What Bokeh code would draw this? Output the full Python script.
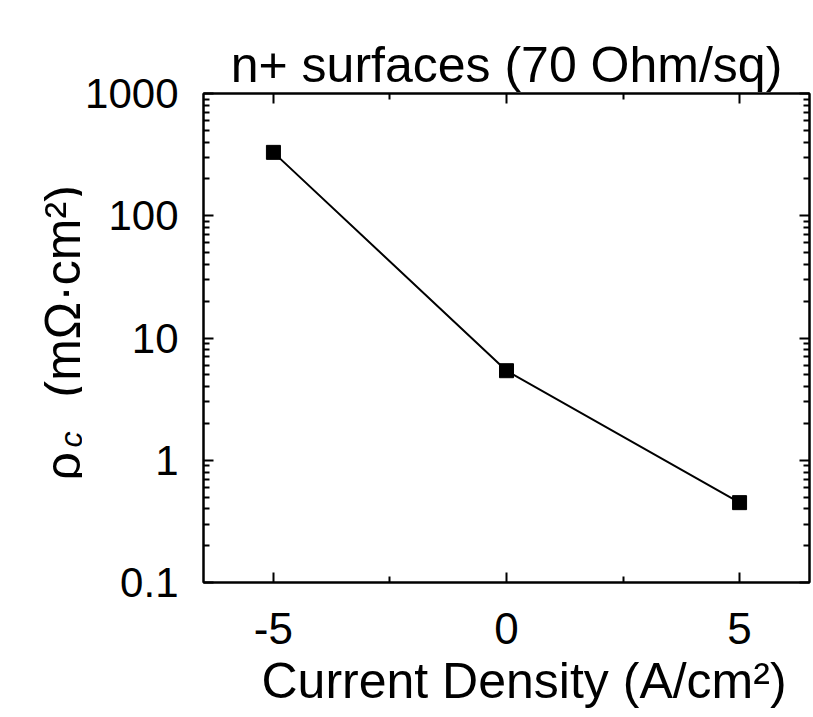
import math
from bokeh.plotting import figure
from bokeh.layouts import row
from bokeh.models import FixedTicker, LinearAxis, LogAxis, Range1d, Title
from bokeh.core.properties import value
from bokeh.embed import file_html
from bokeh.resources import INLINE

# ---- data ----
current_density = [-5, 0, 5]
rho_c = [330, 5.4, 0.45]
x_ticks = [-5, 0, 5]
x_minor_ticks = [-2.5, 2.5]
x_tick_labels = ["-5", "0", "5"]
y_ticks = [0.1, 1, 10, 100, 1000]
y_tick_labels = ["0.1", "1", "10", "100", "1000"]
title_text = "n+ surfaces (70 Ohm/sq)"
x_label = "Current Density (A/cm²)"
y_label_main = "ρ"
y_label_sub = "c"
y_label_unit = "(mΩ·cm²)"

FONT = "Liberation Sans"
W, H = 813, 717
TOP, BOTTOM, LEFT, RIGHT = 93, 135, 203, 4   # frame borders in px
LW = 82  # width of the strip that carries the rotated y-axis label
Y0, Y1 = 0.1, 1000
y_minor = [m * 10.0 ** e for e in range(-1, 3) for m in range(2, 10)]

# ---------- strip with the y-axis label (its frame lines up with the plot's) ----------
lab = figure(width=LW, height=H, x_range=Range1d(0, LW), y_range=Range1d(Y0, Y1),
             y_axis_type="log", output_backend="svg", toolbar_location=None,
             min_border_left=0, min_border_right=0,
             min_border_top=TOP, min_border_bottom=BOTTOM,
             x_axis_location=None, y_axis_location=None)
lab.outline_line_color = None
lab.grid.visible = False
lab.background_fill_color = "white"
lab.border_fill_color = "white"

px_per_decade = (H - TOP - BOTTOM) / (math.log10(Y1) - math.log10(Y0))


def y_at(screen_y):
    """value on the log axis that sits at a given pixel row of the page"""
    return 10 ** (math.log10(Y1) - (screen_y - TOP) / px_per_decade)


rot = math.pi / 2
txt = dict(angle=rot, text_align="left", text_baseline="alphabetic",
           text_font=value(FONT), text_color="black")
lab.text(x=[62], y=[y_at(480)], text=[y_label_main],
         text_font_size=value("50px"), **txt)
lab.text(x=[70], y=[y_at(447)], text=[y_label_sub],
         text_font_size=value("32px"), text_font_style="italic", **txt)
lab.text(x=[62], y=[y_at(397)], text=[y_label_unit],
         text_font_size=value("50px"), **txt)

# ---------- main plot ----------
p = figure(width=W - LW, height=H,
           x_range=Range1d(-6.5, 6.5), y_range=Range1d(Y0, Y1),
           y_axis_type="log", output_backend="svg", toolbar_location=None,
           min_border_left=LEFT - LW, min_border_right=RIGHT,
           min_border_top=TOP, min_border_bottom=BOTTOM)
p.background_fill_color = "white"
p.border_fill_color = "white"
p.outline_line_color = "black"
p.outline_line_width = 2
p.grid.visible = False


def style_axis(ax, ticks, minor, labels, show_labels=True, size="44px"):
    ax.ticker = FixedTicker(ticks=ticks, minor_ticks=minor)
    ax.axis_line_color = "black"
    ax.axis_line_width = 2
    ax.major_tick_in = 10
    ax.major_tick_out = 0
    ax.minor_tick_in = 6
    ax.minor_tick_out = 0
    ax.major_tick_line_width = 2
    ax.minor_tick_line_width = 2
    ax.major_tick_line_color = "black"
    ax.minor_tick_line_color = "black"
    if show_labels:
        ax.major_label_overrides = {t: l for t, l in zip(ticks, labels)}
        ax.major_label_text_font = FONT
        ax.major_label_text_font_size = size
        ax.major_label_text_color = "black"
    else:
        ax.major_label_overrides = {t: "" for t in ticks}
        ax.major_label_text_font_size = "2px"
        ax.major_label_standoff = 0


xa = p.xaxis[0]
style_axis(xa, x_ticks, x_minor_ticks, x_tick_labels, size="44px")
xa.major_label_standoff = 30

ya = p.yaxis[0]
style_axis(ya, y_ticks, y_minor, y_tick_labels, size="42px")
ya.major_label_standoff = 25

top = LinearAxis()
style_axis(top, x_ticks, x_minor_ticks, x_tick_labels, show_labels=False)
p.add_layout(top, "above")
right = LogAxis()
style_axis(right, y_ticks, y_minor, y_tick_labels, show_labels=False)
p.add_layout(right, "right")

# x-axis label, set a little right of centre as in the original
p.add_layout(Title(text=x_label, align="left", offset=58, standoff=8,
                   text_font=FONT, text_font_size="50px",
                   text_font_style="normal", text_color="black"), "below")

p.title.text = title_text
p.title.align = "center"
p.title.vertical_align = "middle"
p.title.text_font = FONT
p.title.text_font_size = "50px"
p.title.text_font_style = "normal"
p.title.text_color = "black"
p.title.standoff = 0

p.line(current_density, rho_c, line_color="black", line_width=2)
p.scatter(current_density, rho_c, marker="square", size=14,
          fill_color="black", line_color="black")

layout = row(lab, p, spacing=0)
open("out.html", "w").write(file_html(layout, INLINE))
